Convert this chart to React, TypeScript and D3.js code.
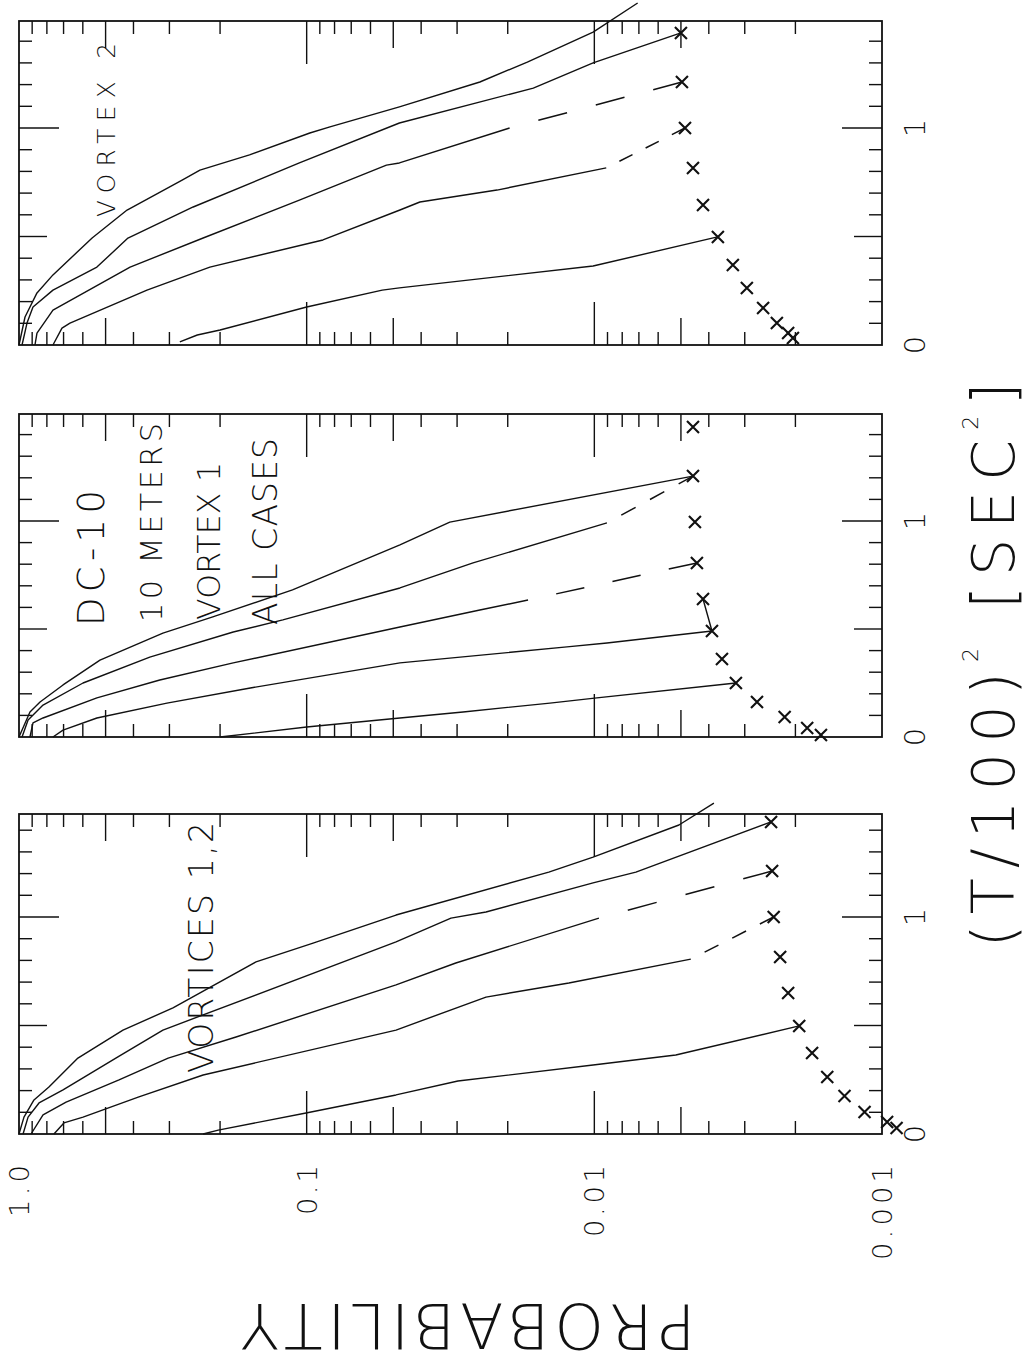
import React from 'react';
import * as d3 from 'd3';

type Pt = [number, number]; // [(T/100)^2, probability]

// ---------- Top panel: VORTEX 2 ----------
const v2Solid: Pt[][] = [
  [[0, 1.0], [0.129, 0.953], [0.24, 0.866], [0.323, 0.762], [0.493, 0.557], [0.622, 0.421], [0.76, 0.271], [0.806, 0.235], [0.876, 0.158], [0.977, 0.0975], [1.005, 0.083], [1.097, 0.0476], [1.212, 0.025], [1.304, 0.0171], [1.442, 0.0101], [1.576, 0.00707]],
  [[0, 0.976], [0.101, 0.938], [0.175, 0.894], [0.253, 0.762], [0.359, 0.536], [0.493, 0.418], [0.636, 0.248], [0.839, 0.106], [1.023, 0.0476], [1.184, 0.0163], [1.3, 0.0101], [1.438, 0.005]],
  [[0, 0.88], [0.055, 0.866], [0.161, 0.762], [0.359, 0.411], [0.493, 0.229], [0.668, 0.106], [0.829, 0.0528], [0.839, 0.0476], [1.0, 0.0197]],
  [[0, 0.762], [0.078, 0.709], [0.101, 0.665], [0.253, 0.359], [0.359, 0.217], [0.484, 0.0878], [0.622, 0.0474], [0.659, 0.0404], [0.714, 0.0218], [0.816, 0.00909]],
  [[0.014, 0.276], [0.046, 0.24], [0.069, 0.2], [0.175, 0.1], [0.253, 0.0546], [0.263, 0.0476], [0.364, 0.0101], [0.498, 0.00373]],
];
const v2Dashed: Pt[][] = [
  [[1.0, 0.0197], [1.212, 0.00496]],
  [[0.816, 0.00909], [1.0, 0.00484]],
];
const v2Marks: Pt[] = [
  [1.438, 0.005], [1.212, 0.00496], [1.0, 0.00484], [0.816, 0.00454], [0.645, 0.00419], [0.498, 0.00372],
  [0.369, 0.0033], [0.263, 0.00295], [0.171, 0.00259], [0.101, 0.00232], [0.055, 0.00212], [0.032, 0.00204],
];

// ---------- Middle panel: DC-10, 10 meters, vortex 1 ----------
const v1Solid: Pt[][] = [
  [[0, 1.0], [0.116, 0.916], [0.162, 0.845], [0.241, 0.703], [0.356, 0.523], [0.481, 0.316], [0.556, 0.212], [0.681, 0.112], [0.889, 0.0474], [0.995, 0.0318], [1.208, 0.00454]],
  [[0, 0.976], [0.079, 0.93], [0.148, 0.825], [0.25, 0.599], [0.37, 0.351], [0.486, 0.18], [0.542, 0.121], [0.69, 0.0474], [0.806, 0.0264], [0.991, 0.00904]],
  [[0, 0.916], [0.065, 0.894], [0.088, 0.825], [0.181, 0.536], [0.264, 0.324], [0.343, 0.18], [0.509, 0.0474], [0.588, 0.025], [0.634, 0.017]],
  [[0, 0.762], [0.032, 0.703], [0.088, 0.536], [0.157, 0.306], [0.227, 0.157], [0.343, 0.0474], [0.417, 0.01245], [0.435, 0.00904], [0.491, 0.0039], [0.639, 0.00419]],
  [[0, 0.2], [0.046, 0.1], [0.088, 0.0474], [0.116, 0.0286], [0.157, 0.01427], [0.181, 0.0098], [0.25, 0.00322]],
];
const v1Dashed: Pt[][] = [
  [[0.991, 0.00904], [1.208, 0.00454]],
  [[0.634, 0.017], [0.806, 0.0044]],
];
const v1Marks: Pt[] = [
  [1.435, 0.00454], [1.208, 0.00454], [0.995, 0.00447], [0.806, 0.0044], [0.639, 0.00419], [0.491, 0.0039],
  [0.361, 0.0036], [0.25, 0.00322], [0.162, 0.00272], [0.093, 0.00218], [0.042, 0.00182], [0.009, 0.00163],
];

// ---------- Bottom panel: vortices 1,2 ----------
const v12Solid: Pt[][] = [
  [[0, 1.0], [0.078, 0.961], [0.157, 0.887], [0.217, 0.787], [0.35, 0.624], [0.479, 0.435], [0.581, 0.2916], [0.793, 0.15], [0.88, 0.095], [1.009, 0.0489], [1.207, 0.0144], [1.276, 0.0101], [1.424, 0.00508], [1.525, 0.00384]],
  [[0, 0.968], [0.078, 0.93], [0.143, 0.852], [0.203, 0.703], [0.355, 0.453], [0.479, 0.316], [0.885, 0.0489], [0.995, 0.0315], [1.023, 0.0238], [1.157, 0.0101], [1.207, 0.00717], [1.438, 0.00243]],
  [[0, 0.908], [0.088, 0.825], [0.147, 0.686], [0.249, 0.449], [0.35, 0.303], [0.447, 0.176], [0.687, 0.0489], [0.788, 0.0303], [0.995, 0.00964]],
  [[0, 0.756], [0.051, 0.698], [0.078, 0.599], [0.171, 0.383], [0.272, 0.229], [0.479, 0.0489], [0.631, 0.0238], [0.696, 0.01226], [0.806, 0.00462]],
  [[0, 0.229], [0.018, 0.203], [0.097, 0.1005], [0.18, 0.0489], [0.244, 0.0298], [0.318, 0.0101], [0.364, 0.00521], [0.498, 0.00194]],
];
const v12Dashed: Pt[][] = [
  [[0.995, 0.00964], [1.212, 0.00241]],
  [[0.806, 0.00462], [1.0, 0.00238]],
];
const v12Marks: Pt[] = [
  [1.438, 0.00243], [1.212, 0.00241], [1.0, 0.00238], [0.816, 0.00226], [0.65, 0.00212], [0.498, 0.00194],
  [0.373, 0.00175], [0.263, 0.00155], [0.175, 0.00135], [0.101, 0.00115], [0.055, 0.00096], [0.028, 0.00089],
];

// ---------- Axis labels ----------
const probTickValues = [1, 0.1, 0.01, 0.001];
const probTickLabels = ['1.0', '0.1', '0.01', '0.001'];
const timeTickValues = [0, 1];
const timeTickLabels = ['0', '1'];
const yTitle = 'PROBABILITY';

const FONT = '"DejaVu Sans", "Noto Sans", sans-serif';
const INK = '#111';
const W_TXT = 200;

const xScale = d3.scaleLog().domain([1, 0.001]).range([19, 882]);

const panelLayout = [
  { y0: 345, y1: 128, top: 21, solid: v2Solid, dashed: v2Dashed, marks: v2Marks,
    labels: [{ t: 'VORTEX 2', x: 115, y: 217, cap: 18, len: 174 }] },
  { y0: 737, y1: 521, top: 414, solid: v1Solid, dashed: v1Dashed, marks: v1Marks,
    labels: [
      { t: 'DC-10', x: 104, y: 626, cap: 27, len: 136 },
      { t: '10 METERS', x: 162, y: 622, cap: 22, len: 199 },
      { t: 'VORTEX 1', x: 220, y: 620, cap: 23, len: 158 },
      { t: 'ALL CASES', x: 277, y: 625, cap: 24, len: 187 },
    ] },
  { y0: 1134, y1: 917, top: 814, solid: v12Solid, dashed: v12Dashed, marks: v12Marks,
    labels: [{ t: 'VORTICES 1,2', x: 213, y: 1073, cap: 24, len: 251 }] },
];

const CAP = 0.729;

function Panel({ p }: { p: any }) {
  const yScale = d3.scaleLinear().domain([0, 1]).range([p.y0, p.y1]);
  const line = d3.line<Pt>().x(d => xScale(d[1])).y(d => yScale(d[0]));
  const left = xScale(1), right = xScale(0.001);
  const bottom = p.y0, top = p.top;
  const logTicks = d3.range(-3, 0).flatMap(e => d3.range(1, 10).map(m => ({ v: m * Math.pow(10, e), m })))
    .filter(t => !(t.m === 1 && t.v < 0.0011));
  const tTicks = d3.range(1, 15).map(i => ({ v: i / 10, i }));
  const tickLen = (m: number) => (m === 1 ? 43 : m === 5 ? 27 : 13);
  const tLen = (i: number) => (i === 10 ? 40 : i === 5 ? 28 : 13);
  return (
    <g>
      <rect x={left} y={top} width={right - left} height={bottom - top} fill="none" stroke={INK} strokeWidth={1.8} />
      {logTicks.map((t, k) => {
        const x = xScale(t.v);
        const L = tickLen(t.m);
        return (
          <g key={'lt' + k}>
            <line x1={x} x2={x} y1={top} y2={top + L} stroke={INK} strokeWidth={1.4} />
            <line x1={x} x2={x} y1={bottom} y2={bottom - L} stroke={INK} strokeWidth={1.4} />
          </g>
        );
      })}
      {tTicks.map((t, k) => {
        const y = yScale(t.v);
        const L = tLen(t.i);
        return (
          <g key={'tt' + k}>
            <line x1={left} x2={left + L} y1={y} y2={y} stroke={INK} strokeWidth={1.4} />
            <line x1={right} x2={right - L} y1={y} y2={y} stroke={INK} strokeWidth={1.4} />
          </g>
        );
      })}
      {timeTickValues.map((v, k) => (
        <text key={'tl' + k} transform={`translate(925,${yScale(v)}) rotate(-90)`} textAnchor="middle"
          fontFamily={FONT} fontWeight={W_TXT} fontSize={21 / CAP} fill={INK}>{timeTickLabels[k]}</text>
      ))}
      {p.solid.map((s: Pt[], k: number) => (
        <path key={'s' + k} d={line(s) || ''} fill="none" stroke={INK} strokeWidth={1.4} strokeLinejoin="round" />
      ))}
      {p.dashed.map((s: Pt[], k: number) => {
        const pts = s.map(d => [xScale(d[1]), yScale(d[0])]);
        let L = 0;
        for (let i = 1; i < pts.length; i++) L += Math.hypot(pts[i][0] - pts[i - 1][0], pts[i][1] - pts[i - 1][1]);
        const dd = L / 6;
        return (
          <path key={'d' + k} d={line(s) || ''} fill="none" stroke={INK} strokeWidth={1.5}
            strokeDasharray={`${dd} ${dd}`} strokeDashoffset={dd} />
        );
      })}
      {p.marks.map((d: Pt, k: number) => {
        const x = xScale(d[1]), y = yScale(d[0]);
        const r = 6;
        return <path key={'m' + k} d={`M${x - r},${y - r}L${x + r},${y + r}M${x - r},${y + r}L${x + r},${y - r}`}
          stroke={INK} strokeWidth={2.1} />;
      })}
      {p.labels.map((l: any, k: number) => (
        <text key={'lb' + k} transform={`translate(${l.x},${l.y}) rotate(-90)`} textAnchor="start"
          fontFamily={FONT} fontWeight={W_TXT} fontSize={l.cap / CAP} fill={INK} textLength={l.len} lengthAdjust="spacing">{l.t}</text>
      ))}
    </g>
  );
}

export default function App() {
  const labelLens = [52, 50, 72, 95];
  return (
    <svg width={1030} height={1363} style={{ position: 'absolute', left: 0, top: 0, background: '#fff' }}>
      <rect width={1030} height={1363} fill="#fff" />
      {panelLayout.map((p, i) => <Panel key={i} p={p} />)}
      {probTickValues.map((v, k) => (
        <text key={'pl' + k} transform={`translate(${xScale(v) + 10},1165) rotate(-90)`} textAnchor="end"
          fontFamily={FONT} fontWeight={W_TXT} fontSize={20 / CAP} fill={INK} textLength={labelLens[k]} lengthAdjust="spacing">{probTickLabels[k]}</text>
      ))}
      <text transform="translate(468,1304) rotate(180)" textAnchor="middle" fontFamily={FONT} fontWeight={W_TXT}
        fontSize={46 / CAP} fill={INK} textLength={455} lengthAdjust="spacing">{yTitle}</text>
      <text transform="translate(1014,665) rotate(-90)" textAnchor="middle" fontFamily={FONT} fontWeight={W_TXT}
        fontSize={43 / CAP} fill={INK} textLength={565} lengthAdjust="spacing">
        <tspan>(T/100)</tspan>
        <tspan dy={-36} fontSize={16 / CAP}>2</tspan>
        <tspan dy={36}> [SEC</tspan>
        <tspan dy={-36} fontSize={16 / CAP}>2</tspan>
        <tspan dy={36}>]</tspan>
      </text>
    </svg>
  );
}
